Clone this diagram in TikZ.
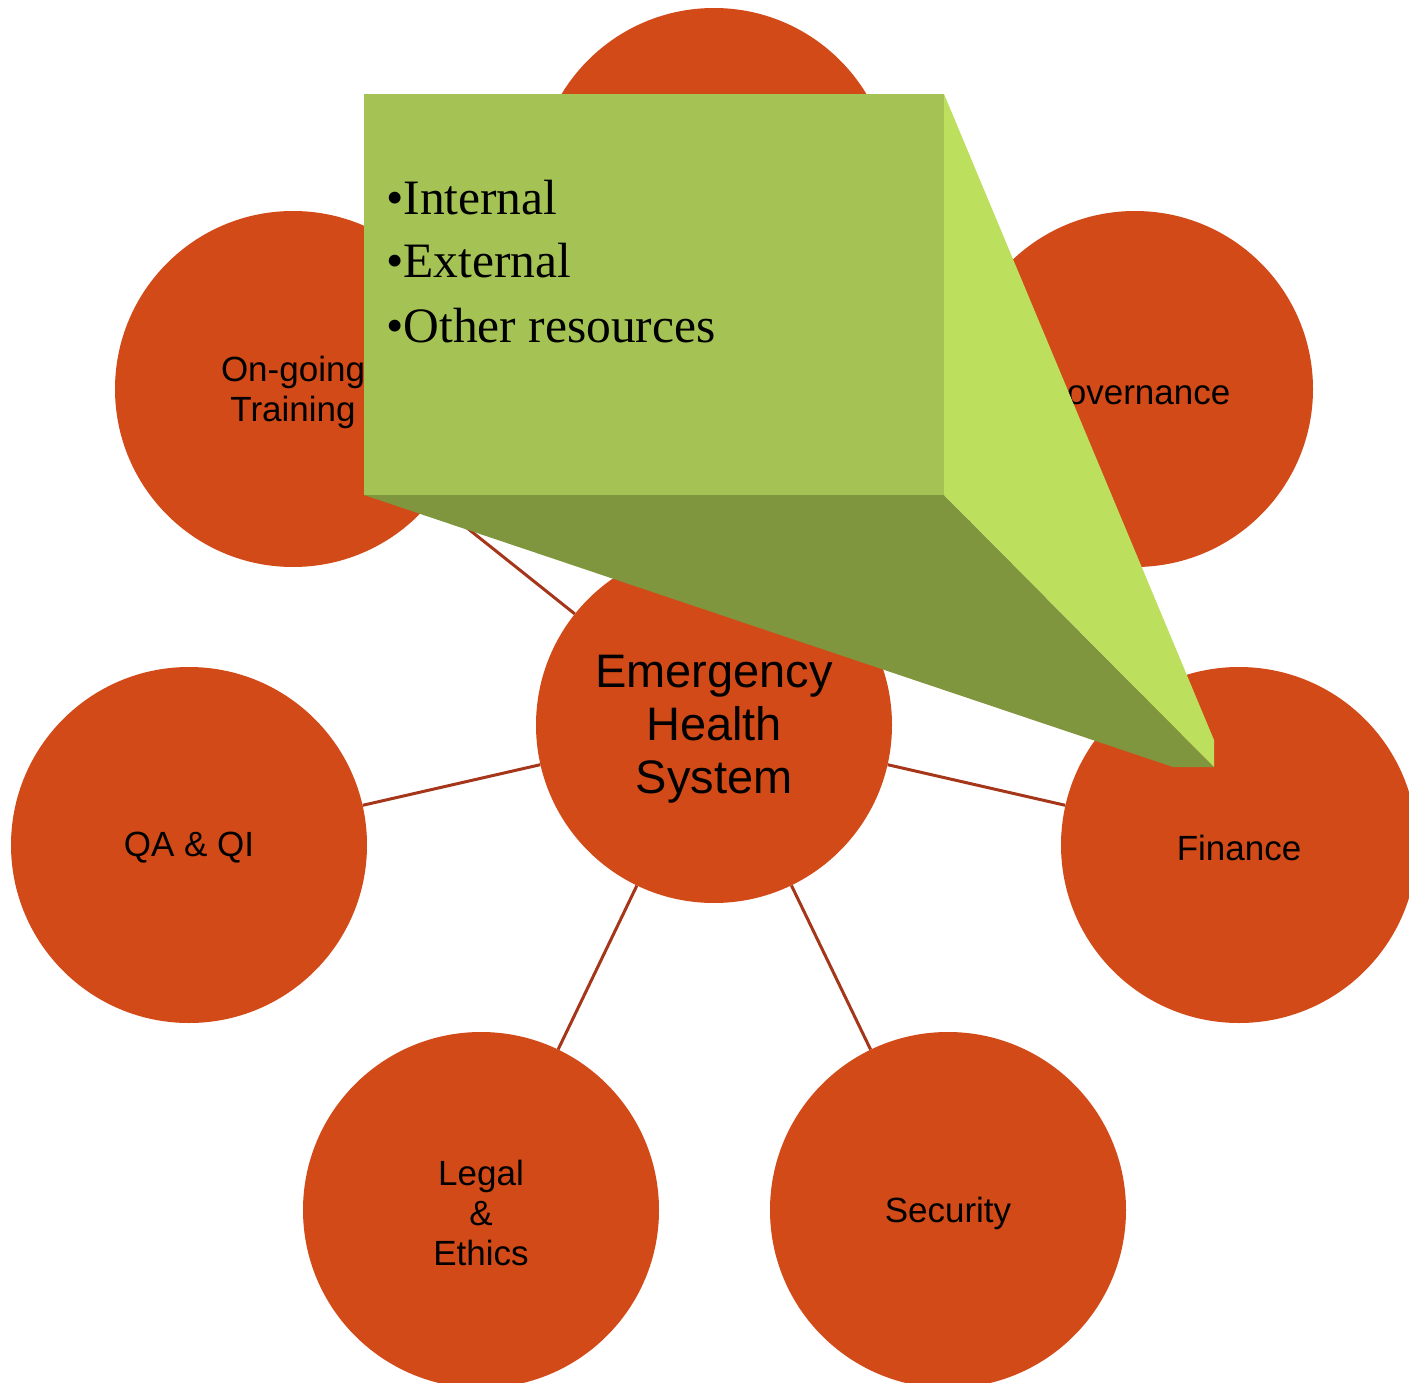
\documentclass[tikz,border=0pt]{standalone}
\usepackage{fontspec}
\setmainfont{Liberation Sans}
\newfontfamily\calloutfont{Liberation Serif}
\definecolor{bubfill}{HTML}{D24A18}
\definecolor{linkcol}{HTML}{A5361A}
\definecolor{frontgreen}{HTML}{A5C254}
\definecolor{sidegreen}{HTML}{BCDF5E}
\definecolor{bottomgreen}{HTML}{7F963E}
\tikzset{
  bub/.style={circle, fill=bubfill, draw=none, minimum size=356pt, inner sep=0pt, align=center, text=black,
              font=\fontsize{35}{40}\selectfont},
  hub/.style={bub, font=\fontsize{47}{53}\selectfont},
  lbl/.style={inner sep=0pt, align=center, text=black, font=\fontsize{35}{40}\selectfont},
  link/.style={draw=linkcol, line width=3pt},
  item/.style={anchor=base west, inner sep=0pt, text=black, font=\calloutfont\fontsize{49.5}{63}\selectfont}
}
\begin{document}
\begin{tikzpicture}[x=1pt,y=-1pt]
\useasboundingbox (0,0) rectangle (1409,1383);
% circles
\node[bub] (c) at (714,725) {};
\node[bub] (top) at (714,186) {};
\node[bub] (train) at (293,389) {};
\node[bub] (gov) at (1135,389) {};
\node[bub] (qa) at (189,845) {};
\node[bub] (fin) at (1239,845) {};
\node[bub] (legal) at (481,1210) {};
\node[bub] (sec) at (948,1210) {};
% labels
\node[lbl, font=\fontsize{47}{53}\selectfont] (tc) at (714,729) {Emergency\\Health\\System};
\node[lbl] (ttrain) at (293,392) {On-going\\Training};
\node[lbl] (tgov) at (1135,392) {Governance};
\node[lbl] (tqa) at (189,848) {QA \& QI};
\node[lbl] (tfin) at (1239,848) {Finance};
\node[lbl] (tlegal) at (481,1213) {Legal\\\&\\Ethics};
\node[lbl] (tsec) at (948,1213) {Security};
% connectors
\foreach \t in {top,train,gov,qa,fin,legal,sec}{
  \draw[link] (c) -- (\t);
}
% callout
\fill[bottomgreen] (364,495) -- (944,495) -- (1214,767) -- (1173,767) -- cycle;
\fill[sidegreen] (944,94) -- (1214,740) -- (1214,767) -- (944,495) -- cycle;
\fill[frontgreen] (364,94) rectangle (944,495);
\node[item] (i1) at (386,215) {•Internal};
\node[item] (i2) at (386,278) {•External};
\node[item] (i3) at (386,342) {•Other resources};
\end{tikzpicture}
\end{document}
